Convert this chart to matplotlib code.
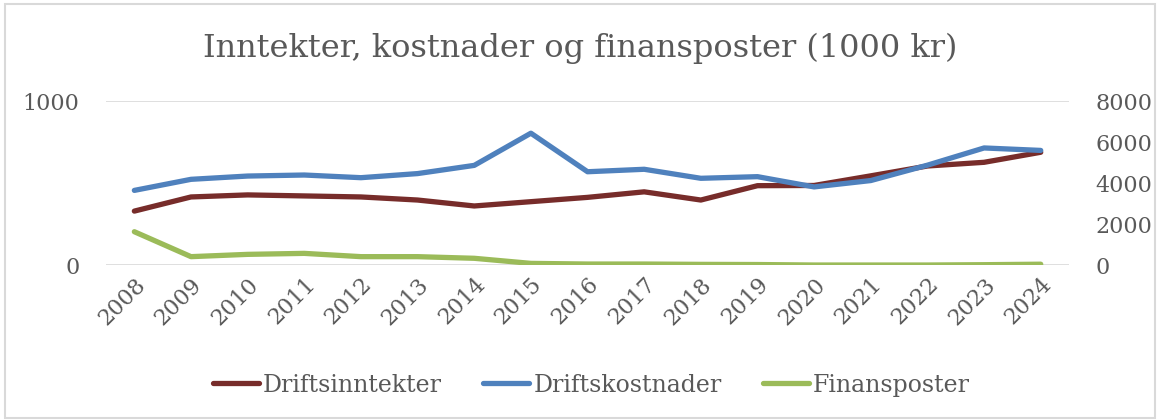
import matplotlib.pyplot as plt
from matplotlib.patches import Rectangle

years = [str(y) for y in range(2008, 2025)]
driftsinntekter = [2630, 3320, 3420, 3370, 3320, 3170, 2880, 3090, 3300, 3570, 3170, 3870, 3880, 4350, 4830, 5010, 5500]
driftskostnader = [3640, 4180, 4340, 4390, 4260, 4460, 4860, 6430, 4550, 4670, 4230, 4310, 3810, 4120, 4870, 5710, 5590]
finansposter = [203, 51, 65, 71, 51, 51, 41, 10, 6, 6, 4, 3, 0, 0, 0, 2, 5]

plt.rcParams['font.family'] = ['DejaVu Serif']
txt = '#595959'

fig = plt.figure(figsize=(11.6, 4.2), dpi=100)
fig.patches.append(Rectangle((0.004, 0.005), 0.992, 0.985, transform=fig.transFigure,
                             fill=False, edgecolor='#D9D9D9', linewidth=1.5))

ax = fig.add_axes([0.0914, 0.369, 0.8302, 0.3905])
ax2 = ax.twinx()
x = list(range(len(years)))

l3, = ax.plot(x, finansposter, color='#9BBB59', lw=3.8, solid_capstyle='round')
l1, = ax2.plot(x, driftsinntekter, color='#772C2A', lw=3.8, solid_capstyle='round')
l2, = ax2.plot(x, driftskostnader, color='#4F81BD', lw=3.8, solid_capstyle='round')

ax.set_xlim(-0.5, len(years) - 0.5)
ax.set_ylim(0, 1000)
ax.set_yticks([0, 1000])
ax2.set_ylim(0, 8000)
ax2.set_yticks([0, 2000, 4000, 6000, 8000])
ax.grid(axis='y', color='#D9D9D9', lw=1.2)
ax.set_axisbelow(True)
ax.set_xticks(x)
ax.set_xticklabels(years, rotation=45, ha='right', rotation_mode='anchor')

for a in (ax, ax2):
    for s in a.spines.values():
        s.set_visible(False)
    a.tick_params(length=0, colors=txt, labelsize=16)
ax.tick_params(axis='y', pad=19)
ax2.tick_params(axis='y', pad=19)
ax.tick_params(axis='x', pad=6)

fig.text(0.5, 0.885, 'Inntekter, kostnader og finansposter (1000 kr)', ha='center', va='center',
         fontsize=23, color=txt)

fig.legend([l1, l2, l3], ['Driftsinntekter', 'Driftskostnader', 'Finansposter'],
           loc='center', bbox_to_anchor=(0.51, 0.083), ncol=3, frameon=False,
           fontsize=17, labelcolor=txt, handlelength=1.95, handletextpad=0.17, columnspacing=1.75)

fig.savefig('out.png', dpi=100)
